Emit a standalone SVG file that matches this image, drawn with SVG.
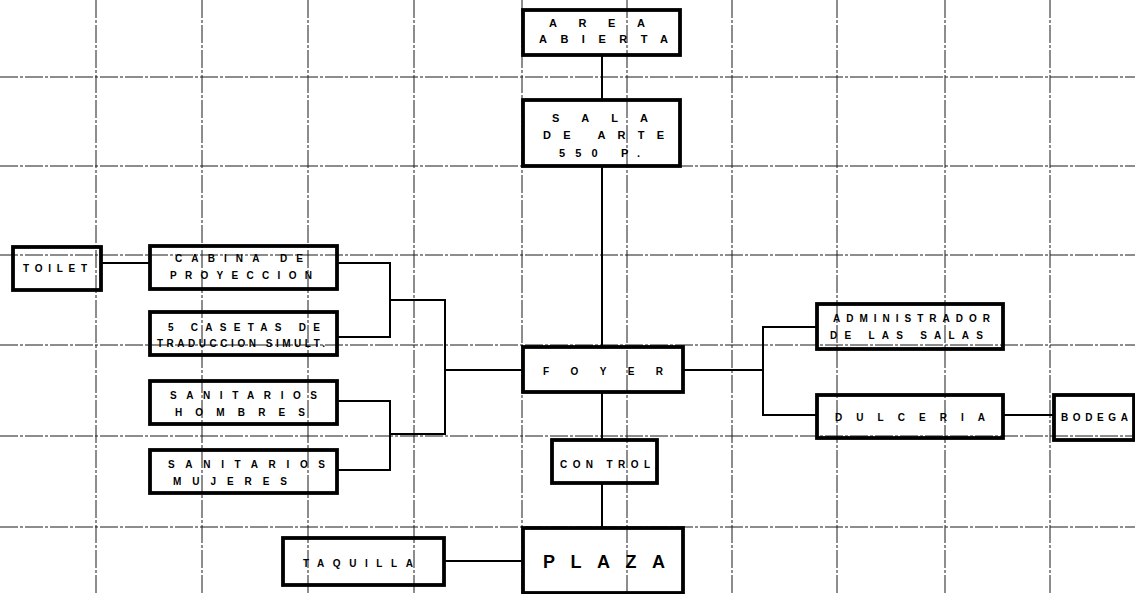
<svg xmlns="http://www.w3.org/2000/svg" width="1135" height="594" viewBox="0 0 1135 594">
<style>
.grid line{stroke:#1a1a1a;stroke-width:1;stroke-dasharray:18 2 3 2;fill:none}
.box{fill:none;stroke:#000;stroke-width:3.8}
.conn{fill:none;stroke:#000;stroke-width:2}
text{font-family:"Liberation Sans",Arial,sans-serif;font-weight:bold;font-size:10px;fill:#000}
.lg{font-size:11px}
.xl{font-size:18px}
</style>
<rect width="1135" height="594" fill="#fff"/>
<g id="grid" class="grid">
<line x1="96" y1="0" x2="96" y2="594"/>
<line x1="202" y1="0" x2="202" y2="594"/>
<line x1="308" y1="0" x2="308" y2="594"/>
<line x1="414" y1="0" x2="414" y2="594"/>
<line x1="522" y1="0" x2="522" y2="594"/>
<line x1="627" y1="0" x2="627" y2="594"/>
<line x1="732" y1="0" x2="732" y2="594"/>
<line x1="837" y1="0" x2="837" y2="594"/>
<line x1="945" y1="0" x2="945" y2="594"/>
<line x1="1050" y1="0" x2="1050" y2="594"/>
<line x1="0" y1="77" x2="1135" y2="77"/>
<line x1="0" y1="166" x2="1135" y2="166"/>
<line x1="0" y1="255" x2="1135" y2="255"/>
<line x1="0" y1="345" x2="1135" y2="345"/>
<line x1="0" y1="436" x2="1135" y2="436"/>
<line x1="0" y1="527" x2="1135" y2="527"/>
</g>
<g id="connectors" class="conn">
<line x1="602" y1="55" x2="602" y2="100"/>
<line x1="602" y1="166" x2="602" y2="347"/>
<line x1="602" y1="392" x2="602" y2="440"/>
<line x1="602" y1="483" x2="602" y2="528"/>
<line x1="101" y1="263" x2="150" y2="263"/>
<polyline points="337,263 390,263 390,337 337,337"/>
<polyline points="390,300 445,300 445,434 390,434"/>
<polyline points="337,401 390,401 390,470 337,470"/>
<line x1="445" y1="370" x2="523" y2="370"/>
<line x1="683" y1="370" x2="763" y2="370"/>
<polyline points="817,327 763,327 763,415 817,415"/>
<line x1="1003" y1="415" x2="1054" y2="415"/>
<line x1="444" y1="561" x2="523" y2="561"/>
</g>
<g id="area-abierta"><rect class="box" x="523" y="10" width="157" height="45"/>
<text class="lg" x="549" y="27" textLength="96" lengthAdjust="spacing">AREA</text>
<text class="lg" x="539" y="43" textLength="129" lengthAdjust="spacing">ABIERTA</text></g>
<g id="sala-de-arte"><rect class="box" x="523" y="100" width="157" height="66"/>
<text class="lg" x="552" y="122" textLength="96" lengthAdjust="spacing">SALA</text>
<text class="lg" x="543" y="139" textLength="121" lengthAdjust="spacing">DE  ARTE</text>
<text class="lg" x="559" y="157" textLength="81" lengthAdjust="spacing">550  P.</text></g>
<g id="toilet"><rect class="box" x="13" y="247" width="88" height="43"/>
<text x="23" y="272" textLength="64" lengthAdjust="spacing">TOILET</text></g>
<g id="cabina"><rect class="box" x="150" y="246" width="187" height="43"/>
<text x="175" y="262" textLength="128" lengthAdjust="spacing">CABINA DE</text>
<text x="170" y="279" textLength="142" lengthAdjust="spacing">PROYECCION</text></g>
<g id="casetas"><rect class="box" x="150" y="312" width="187" height="43"/>
<text x="168" y="331" textLength="152" lengthAdjust="spacing">5 CASETAS DE</text>
<text x="157" y="347" textLength="168" lengthAdjust="spacing">TRADUCCION  SIMULT.</text></g>
<g id="sanitarios-hombres"><rect class="box" x="150" y="381" width="187" height="43"/>
<text x="170" y="399" textLength="147" lengthAdjust="spacing">SANITARIOS</text>
<text x="175" y="416" textLength="130" lengthAdjust="spacing">HOMBRES</text></g>
<g id="sanitarios-mujeres"><rect class="box" x="150" y="450" width="187" height="43"/>
<text x="168" y="468" textLength="157" lengthAdjust="spacing">SANITARIOS</text>
<text x="173" y="485" textLength="114" lengthAdjust="spacing">MUJERES</text></g>
<g id="foyer"><rect class="box" x="523" y="347" width="160" height="45"/>
<text x="543" y="375" textLength="120" lengthAdjust="spacing">FOYER</text></g>
<g id="control"><rect class="box" x="552" y="440" width="105" height="43"/>
<text x="560" y="468" textLength="90" lengthAdjust="spacing">CON TROL</text></g>
<g id="plaza"><rect class="box" x="523" y="528" width="160" height="65"/>
<text class="xl" x="543" y="568" textLength="122" lengthAdjust="spacing">PLAZA</text></g>
<g id="taquilla"><rect class="box" x="283" y="538" width="161" height="47"/>
<text x="303" y="567" textLength="110" lengthAdjust="spacing">TAQUILLA</text></g>
<g id="administrador"><rect class="box" x="817" y="304" width="186" height="45"/>
<text x="833" y="322" textLength="157" lengthAdjust="spacing">ADMINISTRADOR</text>
<text x="830" y="339" textLength="153" lengthAdjust="spacing">DE LAS  SALAS</text></g>
<g id="dulceria"><rect class="box" x="817" y="395" width="186" height="43"/>
<text x="835" y="421" textLength="150" lengthAdjust="spacing">DULCERIA</text></g>
<g id="bodega"><rect class="box" x="1054" y="395" width="80" height="45"/>
<text x="1061" y="421" textLength="67" lengthAdjust="spacing">BODEGA</text></g>
</svg>
